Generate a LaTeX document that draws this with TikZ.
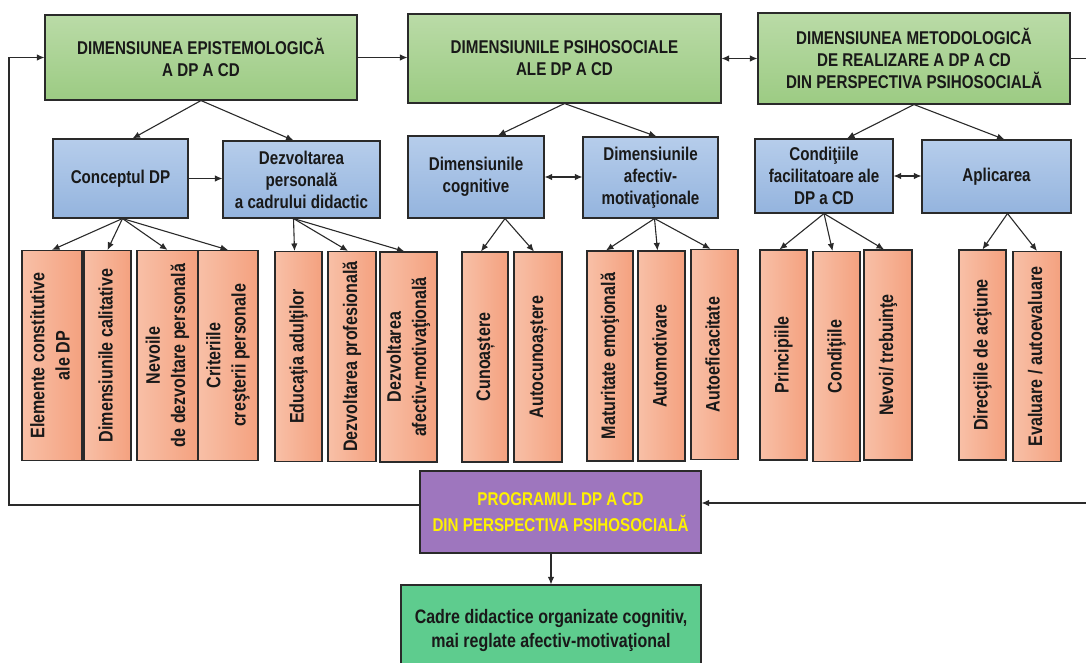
\documentclass[tikz,border=0pt]{standalone}
\usepackage{fontspec}
\usepackage{graphicx}
\setmainfont{Liberation Sans}[FakeStretch=0.82]
\usetikzlibrary{arrows.meta,positioning}

\definecolor{grtop}{HTML}{BADBA7}
\definecolor{grbot}{HTML}{9CCB83}
\definecolor{bltop}{HTML}{B6CDEB}
\definecolor{blbot}{HTML}{94B4DE}
\definecolor{orleft}{HTML}{F8C0A7}
\definecolor{orright}{HTML}{F4A17F}
\definecolor{purp}{HTML}{9E76BE}
\definecolor{mint}{HTML}{5ECC8E}
\definecolor{edge}{HTML}{2A2A2A}

\newcommand{\vlabel}[1]{\rotatebox{90}{\renewcommand{\arraystretch}{1.2}\begin{tabular}{@{}c@{}}#1\end{tabular}}}

\begin{document}
\begin{tikzpicture}[x=1pt,y=-1pt,
    box/.style={draw=edge,line width=1.1pt,align=center,inner sep=2pt,
        font=\bfseries\fontsize{18.5}{22}\selectfont,text=black!90},
    dimbox/.style={box,top color=grtop,bottom color=grbot},
    subbox/.style={box,top color=bltop,bottom color=blbot},
    itembox/.style={box,left color=orleft,right color=orright,minimum height=210pt,
        font=\bfseries\fontsize{19.6}{21}\selectfont},
    link/.style={draw=edge,line width=1.1pt,-{Latex[length=7.5pt,width=6.5pt]}},
    duo/.style={link,{Latex[length=7.5pt,width=6.5pt]}-{Latex[length=7.5pt,width=6.5pt]}}]
\useasboundingbox (0,0) rectangle (1086,663);

% dimensiuni
\node[dimbox,minimum width=312pt,minimum height=85pt] (epist) at (201,57.5)
    {DIMENSIUNEA EPISTEMOLOGICĂ\\A DP A CD};
\node[dimbox,minimum width=313pt,minimum height=89pt] (psih) at (564.5,58.5)
    {DIMENSIUNILE PSIHOSOCIALE\\ALE DP A CD};
\node[dimbox,minimum width=312pt,minimum height=91pt] (metod) at (914,58.5)
    {DIMENSIUNEA METODOLOGICĂ\\DE REALIZARE A DP A CD\\DIN PERSPECTIVA PSIHOSOCIALĂ};

% subdimensiuni
\node[subbox,minimum width=135pt,minimum height=79pt] (concept) at (120.5,178.5) {Conceptul DP};
\node[subbox,minimum width=157pt,minimum height=77pt] (dezv) at (301.5,179.5)
    {Dezvoltarea\\personală\\a cadrului didactic};
\node[subbox,minimum width=136pt,minimum height=82pt] (cogn) at (476,177)
    {Dimensiunile\\cognitive};
\node[subbox,minimum width=135pt,minimum height=81pt] (afect) at (650.5,177.5)
    {Dimensiunile\\afectiv-\\motivaţionale};
\node[subbox,minimum width=138pt,minimum height=74pt] (cond) at (824,176)
    {Condiţiile\\facilitatoare ale\\DP a CD};
\node[subbox,minimum width=149pt,minimum height=73pt] (aplic) at (996.5,176.5) {Aplicarea};

% elemente
\node[itembox,minimum width=60pt] (elem) at (52,355.5) {\vlabel{Elemente constitutive\\ale DP}};
\node[itembox,minimum width=47pt] (calit) at (107.5,355.5) {\vlabel{Dimensiunile calitative}};
\node[itembox,minimum width=61pt] (nevoi) at (167.5,355.5) {\vlabel{Nevoile\\de dezvoltare personală}};
\node[itembox,minimum width=60pt] (crit) at (228,355.5) {\vlabel{Criteriile\\creşterii personale}};
\node[itembox,minimum width=47pt] (educ) at (298.5,356.5) {\vlabel{Educaţia adulţilor}};
\node[itembox,minimum width=48pt] (prof) at (352,356.5) {\vlabel{Dezvoltarea profesională}};
\node[itembox,minimum width=57pt] (afmot) at (408.5,357) {\vlabel{Dezvoltarea\\afectiv-motivaţională}};
\node[itembox,minimum width=46pt] (cunoa) at (485,357) {\vlabel{Cunoaștere}};
\node[itembox,minimum width=48pt] (autoc) at (538,357) {\vlabel{Autocunoaștere}};
\node[itembox,minimum width=46pt] (matur) at (610,356) {\vlabel{Maturitate emoţională}};
\node[itembox,minimum width=47pt] (automot) at (661.5,356) {\vlabel{Automotivare}};
\node[itembox,minimum width=47pt] (autoef) at (714.5,354.5) {\vlabel{Autoeficacitate}};
\node[itembox,minimum width=47pt] (princ) at (783.5,355) {\vlabel{Principiile}};
\node[itembox,minimum width=47pt] (condi) at (836.5,356.5) {\vlabel{Condiţiile}};
\node[itembox,minimum width=48pt] (trebu) at (888,355) {\vlabel{Nevoi/ trebuinţe}};
\node[itembox,minimum width=47pt] (direc) at (982.5,355) {\vlabel{Direcţiile de acţiune}};
\node[itembox,minimum width=48pt] (eval) at (1037,356.5) {\vlabel{Evaluare / autoevaluare}};

% program si rezultat
\node[box,fill=purp,text=yellow,minimum width=281pt,minimum height=82pt,
    font=\bfseries\fontsize{18.5}{26}\selectfont] (prog) at (560.5,512)
    {PROGRAMUL DP A CD\\DIN PERSPECTIVA PSIHOSOCIALĂ};
\node[box,fill=mint,minimum width=300pt,minimum height=90pt,
    font=\bfseries\fontsize{19.5}{24}\selectfont] (rez) at (551,630)
    {Cadre didactice organizate cognitiv,\\mai reglate afectiv-motivaţional};

\coordinate (west) at (9,505);
\coordinate (east) at (1096,503);

% legaturi
\draw[link] (epist.east) -- (epist.east -| psih.west);
\draw[duo] (psih.east) -- (psih.east -| metod.west);
\draw[link] (metod.east) -- (metod.east -| east) -- (east) -- (east -| prog.east);
\draw[link] (prog.west |- west) -- (west) -- (west |- epist.west) -- (epist.west);
\draw[link] (prog.south -| rez.north) -- (rez.north);

\draw[link] (epist.south) -- ([xshift=12pt]concept.north);
\draw[link] (epist.south) -- ([xshift=-8pt]dezv.north);
\draw[link] (psih.south) -- ([xshift=22pt]cogn.north);
\draw[link] (psih.south) -- ([xshift=6pt]afect.north);
\draw[link] (metod.south) -- ([xshift=23pt]cond.north);
\draw[link] (metod.south) -- ([xshift=8pt]aplic.north);

\draw[link] (concept.east) -- (concept.east -| dezv.west);
\draw[duo] (cogn.east) -- (cogn.east -| afect.west);
\draw[duo] (cond.east) -- (cond.east -| aplic.west);

\foreach \t in {elem,calit,nevoi,crit}
    \draw[link] ([xshift=2pt]concept.south) -- (\t.north);
\foreach \t in {educ,prof,afmot}
    \draw[link] ([xshift=-8pt]dezv.south) -- ([xshift=-4pt]\t.north);
\foreach \t in {cunoa,autoc}
    \draw[link] ([xshift=29pt]cogn.south) -- ([xshift=-4pt]\t.north);
\foreach \t in {matur,automot,autoef}
    \draw[link] ([xshift=4pt]afect.south) -- ([xshift=-4pt]\t.north);
\foreach \t in {princ,condi,trebu}
    \draw[link] (cond.south) -- ([xshift=-4pt]\t.north);
\foreach \t in {direc,eval}
    \draw[link] ([xshift=11pt]aplic.south) -- (\t.north);
\end{tikzpicture}
\end{document}
